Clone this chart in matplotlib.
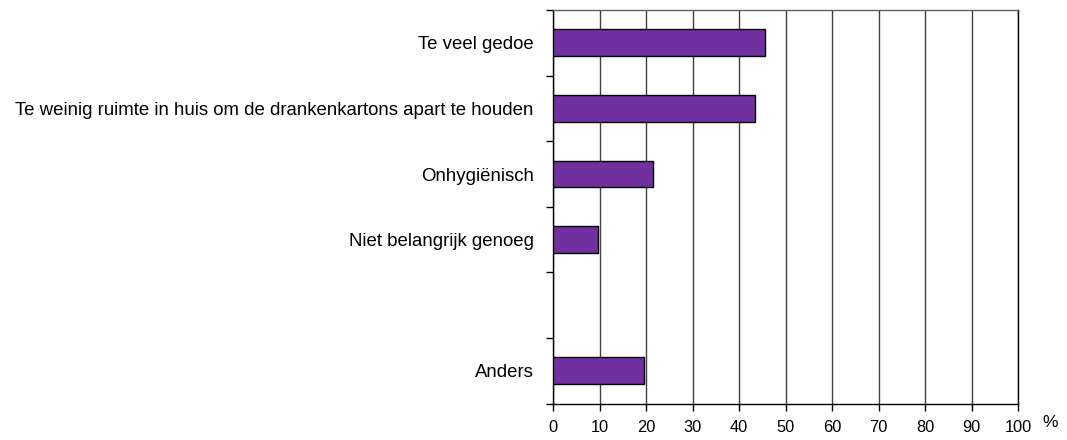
import numpy as np
import matplotlib.pyplot as plt

plt.rcParams['font.family'] = ['Liberation Sans', 'DejaVu Sans']

# categorieën (lege rij tussen "Niet belangrijk genoeg" en "Anders")
categories = ['Te veel gedoe',
              'Te weinig ruimte in huis om de drankenkartons apart te houden',
              'Onhygiënisch',
              'Niet belangrijk genoeg',
              '',
              'Anders']
values = [45.6, 43.5, 21.4, 9.7, np.nan, 19.5]
xticks = list(range(0, 101, 10))

fig = plt.figure(figsize=(10.67, 4.4), dpi=100)
ax = fig.add_axes([553 / 1067, 1 - 403.6 / 440, (1018 - 553) / 1067, (403.6 - 10) / 440])

pos = np.arange(len(categories))
ax.barh(pos, values, height=0.41, color='#7030A0', edgecolor='black', linewidth=1, zorder=3)

ax.set_xlim(0, 100)
ax.set_ylim(len(categories) - 0.5, -0.5)
ax.set_xticks(xticks)
ax.set_xticklabels([str(t) for t in xticks], fontsize=11.8)
ax.xaxis.grid(True, color='#404040', linewidth=1)
ax.set_axisbelow(True)

# streepjes tussen de categorieën, labels in het midden
ax.set_yticks(np.arange(-0.5, len(categories), 1))
ax.set_yticklabels([])
ax.set_yticks(pos, minor=True)
ax.set_yticklabels(categories, minor=True, fontsize=13.4)
ax.tick_params(axis='y', which='major', length=5, width=1, color='black')
ax.tick_params(axis='y', which='minor', length=0, pad=14)
ax.tick_params(axis='x', length=5, width=1, pad=7)

for s in ['left', 'bottom', 'right']:
    ax.spines[s].set_color('black')
    ax.spines[s].set_linewidth(1)
ax.spines['top'].set_color('#606060')
ax.spines['top'].set_linewidth(1)

fig.text(1050 / 1067, 1 - 422 / 440, '%', fontsize=12.5, ha='center', va='center')

plt.savefig('out.png', dpi=100)
